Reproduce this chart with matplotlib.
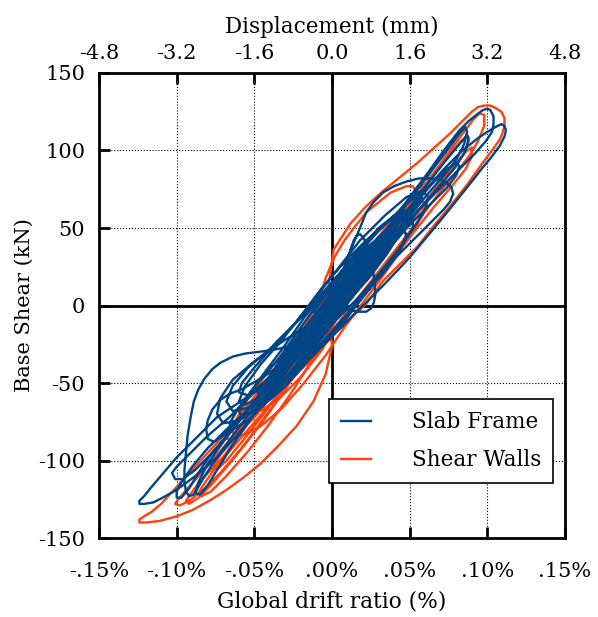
import numpy as np
import matplotlib.pyplot as plt

plt.rcParams['font.family'] = 'DejaVu Serif'
plt.rcParams['font.size'] = 15
plt.rcParams['axes.unicode_minus'] = False

# Slab Frame hysteresis: (drift %, base shear kN), traced by eye
sf_points = [
    (0.000, 0), (0.006, 8), (0.012, 16), (0.014, 20), (0.011, 18), (0.004, 8), (-0.004, -4), (-0.011, -14),
    (-0.016, -20), (-0.014, -20), (-0.006, -10), (0.004, 4), (0.014, 18), (0.022, 28), (0.026, 34), (0.023, 34),
    (0.014, 24), (0.002, 8), (-0.010, -8), (-0.022, -26), (-0.030, -36), (-0.032, -40), (-0.027, -37),
    (-0.016, -24), (-0.002, -6), (0.012, 12), (0.026, 32), (0.036, 44), (0.040, 50), (0.038, 52), (0.030, 44),
    (0.018, 30), (0.004, 12), (-0.010, -6), (-0.024, -24), (-0.036, -40), (-0.044, -52), (-0.046, -57),
    (-0.042, -56), (-0.032, -46), (-0.018, -28), (-0.004, -10),
    # bump near origin
    (0.004, 6), (0.007, 16), (0.010, 28), (0.012, 36), (0.014, 42), (0.016, 45), (0.018, 46), (0.020, 44),
    (0.022, 40), (0.024, 34), (0.026, 26), (0.027, 18), (0.028, 8), (0.027, 2), (0.025, -2), (0.022, -4),
    (0.017, -4), (0.012, -3), (0.007, -2), (0.002, -6), (-0.008, -14), (-0.020, -26),
    (-0.032, -38), (-0.042, -48), (-0.046, -54), (-0.043, -54), (-0.034, -46), (-0.020, -30), (-0.006, -12),
    (0.008, 6), (0.020, 22), (0.032, 38), (0.042, 52), (0.048, 60), (0.049, 62), (0.045, 60), (0.036, 50),
    (0.024, 36), (0.010, 18), (-0.004, 0), (-0.018, -18), (-0.030, -34), (-0.040, -46),
    # wide flat-topped loop
    (-0.030, -34), (-0.016, -14), (-0.002, 6), (0.006, 20), (0.012, 36), (0.018, 50), (0.022, 60),
    (0.027, 67), (0.033, 73), (0.040, 77), (0.048, 80), (0.056, 82), (0.064, 82), (0.070, 81), (0.074, 79),
    (0.077, 76), (0.078, 72), (0.076, 67), (0.072, 62), (0.064, 54), (0.054, 44), (0.042, 32), (0.030, 20),
    (0.016, 4), (0.004, -8), (-0.008, -18), (-0.020, -24),
    # lobe on the negative side
    (-0.030, -27), (-0.040, -29), (-0.048, -30), (-0.056, -31), (-0.064, -33), (-0.072, -37), (-0.077, -41),
    (-0.082, -47), (-0.086, -54), (-0.089, -62), (-0.091, -72), (-0.093, -84), (-0.094, -95), (-0.095, -106),
    (-0.095, -114), (-0.094, -120), (-0.092, -123), (-0.089, -122), (-0.086, -117), (-0.082, -110),
    (-0.074, -98), (-0.064, -84), (-0.052, -68), (-0.040, -52), (-0.026, -34), (-0.012, -16),
    # positive peak 127 kN
    (0.004, 4), (0.020, 26), (0.036, 50), (0.050, 70), (0.062, 86), (0.072, 100), (0.082, 113), (0.088, 119),
    (0.093, 123), (0.097, 126), (0.100, 127), (0.102, 126), (0.104, 122), (0.104, 117), (0.103, 112),
    (0.099, 106), (0.092, 98), (0.082, 88), (0.070, 76), (0.056, 62), (0.040, 44), (0.024, 24), (0.008, 4),
    (-0.008, -14), (-0.024, -32),
    # negative peak -127 kN
    (-0.040, -46), (-0.056, -60), (-0.074, -72), (-0.087, -85), (-0.100, -98), (-0.111, -111), (-0.117, -118),
    (-0.121, -123), (-0.124, -126), (-0.124, -128), (-0.121, -128), (-0.115, -127), (-0.109, -124),
    (-0.102, -120), (-0.096, -116), (-0.088, -110), (-0.083, -106), (-0.072, -96), (-0.058, -80),
    (-0.042, -60), (-0.026, -38), (-0.010, -16),
    # positive peak at max drift
    (0.006, 6), (0.024, 30), (0.042, 54), (0.058, 72), (0.072, 88), (0.084, 100), (0.094, 108), (0.100, 112),
    (0.105, 115), (0.109, 117), (0.111, 116), (0.112, 113), (0.111, 109), (0.108, 103), (0.102, 95),
    (0.097, 89), (0.090, 80), (0.082, 70), (0.074, 60), (0.065, 49), (0.050, 31), (0.034, 14), (0.018, -2),
    (0.002, -18), (-0.014, -34),
    (-0.030, -48), (-0.048, -62), (-0.066, -78), (-0.080, -92), (-0.090, -104), (-0.097, -114), (-0.100, -120),
    (-0.100, -124), (-0.097, -124), (-0.092, -118), (-0.086, -108), (-0.078, -96), (-0.066, -82),
    (-0.050, -62), (-0.032, -40), (-0.014, -16),
    (0.004, 6), (0.022, 30), (0.040, 54), (0.056, 76), (0.068, 92), (0.077, 104), (0.083, 112), (0.086, 115),
    (0.087, 112), (0.085, 104), (0.080, 94), (0.072, 84), (0.060, 70), (0.044, 50), (0.026, 28), (0.008, 6),
    (-0.010, -14), (-0.026, -32), (-0.042, -52), (-0.058, -72), (-0.070, -88), (-0.080, -102), (-0.086, -114),
    (-0.088, -121), (-0.085, -122), (-0.080, -116), (-0.074, -106), (-0.064, -90), (-0.050, -70),
    (-0.034, -48), (-0.016, -24), (0.002, 0),
    (0.020, 24), (0.040, 50), (0.058, 74), (0.072, 92), (0.082, 104), (0.087, 110), (0.088, 108), (0.086, 100),
    (0.080, 90), (0.070, 78), (0.056, 62), (0.040, 42), (0.022, 20), (0.004, 0), (-0.014, -18),
    (-0.032, -38), (-0.050, -56), (-0.066, -72), (-0.080, -84), (-0.092, -96), (-0.100, -104), (-0.103, -108),
    (-0.101, -112), (-0.096, -112), (-0.088, -106), (-0.078, -96), (-0.064, -80), (-0.048, -60),
    (-0.030, -38), (-0.012, -14),
    (0.006, 8), (0.022, 28), (0.038, 48), (0.052, 64), (0.064, 78), (0.074, 88), (0.080, 92), (0.082, 90),
    (0.080, 84), (0.074, 76), (0.064, 66), (0.050, 52), (0.034, 34), (0.018, 16), (0.002, -2), (-0.014, -20),
    (-0.030, -36), (-0.044, -46), (-0.058, -54), (-0.066, -57), (-0.072, -61), (-0.077, -67), (-0.080, -74),
    (-0.081, -80), (-0.080, -86), (-0.076, -88), (-0.070, -84), (-0.060, -74), (-0.046, -58), (-0.030, -38),
    (-0.014, -18),
    # wider cycles in the middle
    (-0.010, -10), (-0.030, -22), (-0.050, -36), (-0.064, -48), (-0.072, -60), (-0.074, -70), (-0.070, -76),
    (-0.060, -74), (-0.046, -66), (-0.030, -52), (-0.014, -34), (0.002, -16), (0.016, 2), (0.030, 20),
    (0.044, 38), (0.054, 52), (0.060, 62), (0.062, 70), (0.058, 74), (0.048, 70), (0.034, 58), (0.018, 42),
    (0.004, 24), (-0.010, 6), (-0.024, -12), (-0.040, -28), (-0.054, -40), (-0.064, -52), (-0.068, -62),
    (-0.064, -68), (-0.054, -66), (-0.040, -58), (-0.024, -44), (-0.008, -28), (0.008, -10), (0.022, 8),
    (0.036, 26), (0.046, 40), (0.052, 50), (0.052, 58), (0.046, 60), (0.036, 54), (0.022, 42), (0.008, 28),
    (-0.006, 12), (-0.018, -4), (-0.032, -22), (-0.046, -38), (-0.056, -52), (-0.060, -62), (-0.056, -64),
    (-0.044, -58), (-0.028, -46), (-0.012, -30), (0.004, -12), (0.020, 6), (0.034, 22), (0.044, 36),
    (0.048, 46), (0.044, 50), (0.034, 46), (0.020, 36), (0.006, 22), (-0.008, 6), (-0.020, -8),
    (-0.036, -24), (-0.050, -40), (-0.058, -50), (-0.060, -56), (-0.054, -58), (-0.040, -50), (-0.024, -36),
    (-0.008, -18), (0.008, 0), (0.024, 18), (0.036, 34), (0.042, 44), (0.040, 48), (0.030, 42), (0.016, 30),
    (0.002, 14), (-0.012, -4),
    # dense centre cycles
    (0.000, -2), (0.014, 16), (0.028, 34), (0.040, 50), (0.048, 58), (0.052, 62), (0.050, 62), (0.044, 56),
    (0.034, 44), (0.020, 28), (0.006, 10), (-0.008, -8), (-0.022, -26), (-0.034, -42), (-0.044, -54),
    (-0.050, -62), (-0.052, -66), (-0.048, -64), (-0.040, -56), (-0.028, -40), (-0.014, -22), (0.000, -4),
    (0.016, 14), (0.030, 34), (0.040, 48), (0.044, 56), (0.040, 58), (0.030, 50), (0.014, 32), (-0.002, 12),
    (-0.018, -8), (-0.032, -28), (-0.044, -44), (-0.054, -58), (-0.060, -68), (-0.058, -72), (-0.050, -68),
    (-0.036, -54), (-0.020, -34), (-0.004, -14), (0.012, 8), (0.026, 28), (0.040, 46), (0.052, 62),
    (0.058, 70), (0.056, 72), (0.046, 64), (0.030, 48), (0.012, 28), (-0.004, 8), (-0.020, -14), (-0.034, -34),
    (-0.048, -50), (-0.060, -66), (-0.066, -76), (-0.064, -80), (-0.054, -74), (-0.038, -58), (-0.020, -38),
    (-0.004, -18), (0.012, 4), (0.026, 22), (0.036, 36), (0.042, 44), (0.040, 46), (0.030, 38), (0.016, 22),
    (0.000, 2), (-0.016, -18), (-0.030, -36), (-0.040, -50), (-0.046, -58), (-0.044, -60), (-0.034, -52),
    (-0.018, -34), (-0.002, -14), (0.014, 8), (0.028, 26), (0.038, 40), (0.046, 52), (0.048, 56),
    (0.042, 54), (0.030, 42), (0.014, 24), (-0.002, 4), (-0.018, -16), (-0.032, -34), (-0.042, -48),
    (-0.048, -56), (-0.046, -58), (-0.038, -50), (-0.024, -34), (-0.008, -14), (0.008, 6), (0.020, 22),
    (0.030, 36), (0.034, 44), (0.030, 44), (0.020, 34), (0.006, 16), (-0.008, -2), (-0.022, -20),
    (-0.034, -36), (-0.040, -46), (-0.038, -48), (-0.030, -42), (-0.016, -26), (-0.002, -8), (0.012, 10),
    (0.022, 24), (0.028, 32), (0.026, 34), (0.018, 26), (0.006, 12), (-0.006, -4), (-0.018, -18),
    (-0.026, -30), (-0.028, -34), (-0.022, -30), (-0.012, -18), (0.000, -2), (0.010, 10), (0.016, 18),
    (0.016, 20), (0.010, 14), (0.002, 4), (-0.006, -6), (-0.012, -14), (-0.010, -14), (-0.004, -6),
    (0.000, 0),
]

# Shear Walls hysteresis
sw_points = [
    (0.000, 0), (0.006, 8), (0.012, 16), (0.016, 22), (0.014, 22), (0.006, 12), (-0.004, -2), (-0.012, -14),
    (-0.018, -24), (-0.017, -25), (-0.010, -16), (0.000, -2), (0.012, 14), (0.024, 30), (0.032, 42),
    (0.034, 46), (0.030, 44), (0.020, 32), (0.006, 14), (-0.008, -4), (-0.020, -22), (-0.032, -40),
    (-0.040, -50), (-0.042, -54), (-0.036, -50), (-0.024, -36), (-0.010, -16),
    (-0.008, 4), (-0.004, 18), (0.002, 32), (0.008, 42), (0.014, 50), (0.022, 60), (0.028, 65), (0.033, 69),
    (0.038, 73), (0.043, 75), (0.048, 77), (0.052, 77), (0.054, 74), (0.054, 70), (0.050, 62), (0.042, 52),
    (0.030, 38), (0.016, 20), (0.002, 2), (-0.012, -16), (-0.026, -34),
    # negative peak -139 kN
    (-0.040, -50), (-0.057, -70), (-0.070, -84), (-0.079, -94), (-0.090, -106), (-0.100, -117),
    (-0.110, -128), (-0.116, -133), (-0.121, -136), (-0.124, -138), (-0.124, -140), (-0.120, -140),
    (-0.111, -139), (-0.100, -136), (-0.090, -132), (-0.079, -126), (-0.068, -119), (-0.057, -111),
    (-0.046, -102), (-0.035, -91), (-0.023, -78), (-0.012, -62), (-0.004, -44), (0.000, -26),
    # positive peak 129 kN
    (-0.002, -6), (-0.002, 14), (0.001, 36), (0.012, 53), (0.022, 64), (0.033, 74), (0.044, 83), (0.055, 92),
    (0.066, 102), (0.076, 111), (0.085, 120), (0.090, 125), (0.094, 128), (0.098, 129), (0.102, 129),
    (0.106, 127), (0.109, 125), (0.111, 121), (0.111, 116), (0.110, 112), (0.108, 107), (0.103, 100),
    (0.097, 92), (0.087, 78), (0.076, 64), (0.066, 52), (0.055, 38), (0.044, 27), (0.033, 16), (0.022, 1),
    (0.012, -8), (0.000, -20), (-0.012, -34),
    (-0.030, -50), (-0.046, -66), (-0.060, -80), (-0.072, -94), (-0.084, -108), (-0.093, -118),
    (-0.099, -125), (-0.101, -128), (-0.098, -129), (-0.092, -126), (-0.084, -120), (-0.072, -108),
    (-0.058, -92), (-0.044, -74), (-0.030, -54), (-0.016, -32), (-0.004, -12),
    (0.008, 10), (0.024, 32), (0.040, 52), (0.054, 70), (0.066, 86), (0.076, 100), (0.085, 112), (0.091, 120),
    (0.095, 124), (0.098, 123), (0.098, 116), (0.094, 106), (0.088, 96), (0.080, 86), (0.070, 74),
    (0.058, 58), (0.044, 40), (0.030, 22), (0.016, 4), (0.002, -14), (-0.012, -32),
    (-0.026, -48), (-0.040, -64), (-0.054, -80), (-0.066, -94), (-0.078, -106), (-0.087, -116),
    (-0.092, -123), (-0.094, -126), (-0.092, -128), (-0.086, -124), (-0.078, -116), (-0.066, -102),
    (-0.052, -84), (-0.036, -62), (-0.020, -38), (-0.006, -16),
    (0.008, 8), (0.024, 30), (0.040, 52), (0.054, 70), (0.066, 86), (0.076, 98), (0.083, 106), (0.087, 109),
    (0.088, 106), (0.085, 98), (0.078, 88), (0.068, 76), (0.054, 58), (0.038, 38), (0.022, 18), (0.006, -2),
    (-0.010, -22),
    (-0.026, -42), (-0.040, -60), (-0.054, -76), (-0.066, -92), (-0.076, -106), (-0.083, -116),
    (-0.086, -121), (-0.084, -123), (-0.078, -120), (-0.068, -110), (-0.054, -94), (-0.040, -76),
    (-0.026, -56), (-0.012, -34), (0.000, -14),
    (0.012, 6), (0.028, 26), (0.044, 46), (0.058, 64), (0.070, 80), (0.080, 92), (0.087, 100), (0.090, 102),
    (0.090, 96), (0.086, 88), (0.078, 78), (0.066, 64), (0.050, 44), (0.034, 24), (0.018, 6), (0.002, -14),
    (-0.014, -32),
    (-0.028, -42), (-0.042, -58), (-0.056, -74), (-0.066, -88), (-0.073, -98), (-0.076, -104), (-0.074, -106),
    (-0.068, -100), (-0.058, -88), (-0.044, -70), (-0.030, -50), (-0.016, -28), (-0.002, -8),
    # wider cycles in the middle
    (0.010, -2), (0.024, 12), (0.038, 28), (0.050, 44), (0.058, 58), (0.060, 66), (0.056, 68), (0.046, 60),
    (0.032, 46), (0.016, 28), (0.000, 10), (-0.014, -8), (-0.028, -26), (-0.042, -44), (-0.054, -60),
    (-0.062, -74), (-0.064, -82), (-0.058, -84), (-0.046, -78), (-0.032, -66), (-0.018, -50), (-0.004, -32),
    (0.008, -14), (0.020, 2), (0.032, 18), (0.042, 32), (0.048, 44), (0.046, 50), (0.038, 46), (0.024, 34),
    (0.010, 18), (-0.004, 0), (-0.018, -18), (-0.032, -36), (-0.044, -54), (-0.050, -64), (-0.046, -68),
    (-0.034, -60), (-0.020, -46), (-0.006, -28),
    # dense centre cycles
    (0.010, 10), (0.022, 26), (0.034, 42), (0.044, 56), (0.050, 64), (0.052, 66), (0.048, 62), (0.040, 52),
    (0.028, 36), (0.014, 18), (0.000, 0), (-0.014, -18), (-0.028, -36), (-0.040, -52), (-0.050, -66),
    (-0.055, -74), (-0.054, -76), (-0.048, -70), (-0.038, -56), (-0.024, -38), (-0.010, -18), (0.004, 2),
    (0.018, 20), (0.030, 36), (0.040, 48), (0.044, 54), (0.042, 54), (0.034, 46), (0.022, 30), (0.008, 12),
    (-0.006, -6), (-0.020, -24), (-0.032, -40), (-0.040, -52), (-0.042, -56), (-0.038, -52), (-0.028, -40),
    (-0.014, -22), (0.000, -4), (0.016, 16), (0.032, 38), (0.046, 56), (0.056, 70), (0.060, 78), (0.056, 76),
    (0.044, 62), (0.028, 42), (0.010, 20), (-0.008, -2), (-0.024, -24), (-0.040, -46), (-0.054, -64),
    (-0.064, -78), (-0.068, -86), (-0.064, -86), (-0.052, -74), (-0.036, -54), (-0.018, -32), (0.000, -10),
    (0.018, 12), (0.034, 34), (0.046, 50), (0.052, 58), (0.050, 60), (0.040, 50), (0.024, 32), (0.006, 10),
    (-0.012, -12), (-0.028, -32), (-0.042, -50), (-0.052, -64), (-0.056, -70), (-0.050, -68), (-0.036, -52),
    (-0.018, -30), (0.000, -8), (0.016, 12), (0.028, 28), (0.036, 40), (0.038, 46), (0.032, 42), (0.020, 28),
    (0.006, 10), (-0.008, -8), (-0.022, -26), (-0.032, -40), (-0.036, -48), (-0.032, -46), (-0.022, -34),
    (-0.008, -16), (0.006, 2), (0.016, 16), (0.022, 26), (0.020, 28), (0.012, 18), (0.000, 2),
    (-0.010, -12), (-0.020, -26), (-0.024, -32), (-0.020, -30), (-0.010, -16), (0.000, -2), (0.006, 6),
    (0.004, 4), (0.000, 0),
]

x_ticks = [-0.15, -0.10, -0.05, 0.00, 0.05, 0.10, 0.15]
x_ticklabels = ['-.15%', '-.10%', '-.05%', '.00%', '.05%', '.10%', '.15%']
y_ticks = [-150, -100, -50, 0, 50, 100, 150]
top_ticks = [-4.8, -3.2, -1.6, 0.0, 1.6, 3.2, 4.8]

sf_drift, sf_shear = zip(*sf_points)
sw_drift, sw_shear = zip(*sw_points)

fig = plt.figure(figsize=(5.98, 6.17), dpi=100)
ax = fig.add_axes([0.1656, 0.128, 0.7792, 0.7537])

ax.plot(sw_drift, sw_shear, color='#ff420e', lw=1.7, label='Shear Walls', zorder=3,
        solid_joinstyle='round')
ax.plot(sf_drift, sf_shear, color='#004586', lw=1.7, label='Slab Frame', zorder=4,
        solid_joinstyle='round')

ax.axhline(0, color='black', lw=2, zorder=2)
ax.axvline(0, color='black', lw=2, zorder=2)

ax.set_xlim(-0.15, 0.15)
ax.set_ylim(-150, 150)
ax.set_xticks(x_ticks)
ax.set_xticklabels(x_ticklabels)
ax.set_yticks(y_ticks)
ax.grid(color='black', linestyle=':', linewidth=0.8)
ax.tick_params(direction='in', length=8, width=2)
ax.tick_params(axis='x', pad=17)
ax.tick_params(axis='y', pad=10)
for s in ax.spines.values():
    s.set_linewidth(2)

# displacement axis on top (0.15 % drift = 4.8 mm)
sec = ax.secondary_xaxis('top', functions=(lambda d: d * 32, lambda m: m / 32))
sec.set_xticks(top_ticks)
sec.set_xticklabels(['%.1f' % t for t in top_ticks])
sec.tick_params(direction='in', length=8, width=2, pad=7)
sec.set_xlabel('Displacement (mm)', fontsize=15.5, labelpad=8)

ax.set_xlabel('Global drift ratio (%)', fontsize=15.7, labelpad=7)
ax.set_ylabel('Base Shear (kN)', fontsize=15, labelpad=3)

h, l = ax.get_legend_handles_labels()
leg = ax.legend(h[::-1], l[::-1], loc='lower right', bbox_to_anchor=(0.974, 0.118),
                borderaxespad=0, fancybox=False, edgecolor='black', framealpha=1, fontsize=15.5,
                handlelength=1.4, handletextpad=1.9, borderpad=0.55, labelspacing=0.75)
leg.get_frame().set_linewidth(1.2)

fig.savefig('out.png', dpi=100)
